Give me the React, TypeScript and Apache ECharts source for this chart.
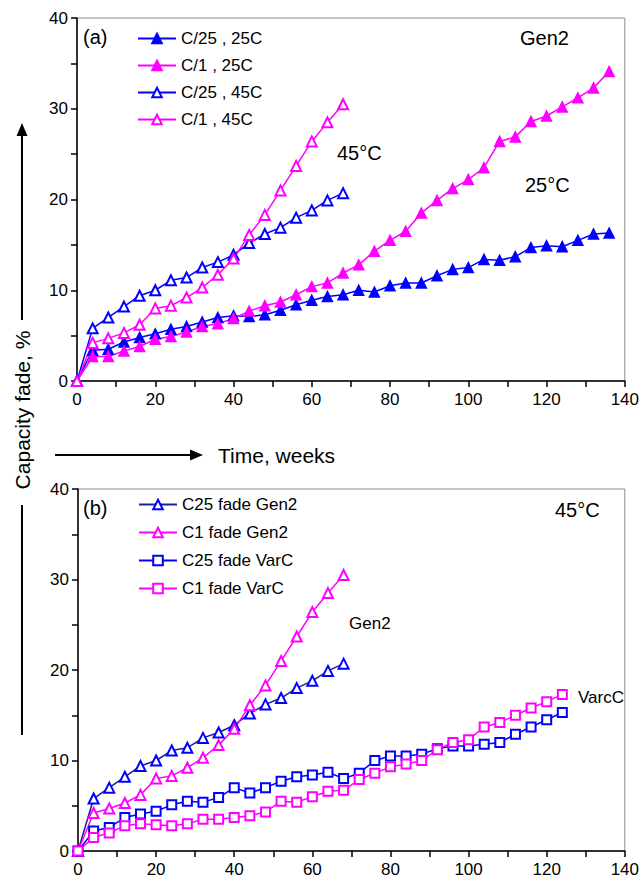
import React, { useEffect, useRef } from "react";
import * as echarts from "echarts";

const FONT = '"Liberation Sans", Arial, Helvetica, sans-serif';

// Panel (a) – Gen2 cells
const weeks25C = [0, 4, 8, 12, 16, 20, 24, 28, 32, 36, 40, 44, 48, 52, 56, 60, 64, 68, 72, 76, 80, 84, 88, 92, 96, 100, 104, 108, 112, 116, 120, 124, 128, 132, 136];
const fadeC25_25C = [0, 3.4, 3.5, 4.3, 4.8, 5.2, 5.7, 6.0, 6.5, 7.0, 7.2, 7.1, 7.3, 7.8, 8.4, 8.9, 9.3, 9.5, 10.0, 9.8, 10.5, 10.8, 10.8, 11.6, 12.3, 12.5, 13.4, 13.3, 13.7, 14.7, 14.9, 14.8, 15.5, 16.2, 16.3];
const fadeC1_25C = [0, 2.7, 2.7, 3.3, 3.8, 4.6, 4.9, 5.4, 6.0, 6.3, 6.9, 7.7, 8.3, 8.7, 9.5, 10.4, 10.8, 11.9, 12.8, 14.3, 15.5, 16.5, 18.5, 19.9, 21.2, 22.2, 23.5, 26.4, 26.9, 28.6, 29.2, 30.2, 31.2, 32.3, 34.1];

const weeks45C = [0, 4, 8, 12, 16, 20, 24, 28, 32, 36, 40, 44, 48, 52, 56, 60, 64, 68];
const fadeC25_45C = [0, 5.8, 7.0, 8.2, 9.4, 10.0, 11.1, 11.4, 12.5, 13.1, 13.9, 15.2, 16.2, 16.9, 18.0, 18.8, 19.9, 20.7];
const fadeC1_45C = [0, 4.2, 4.7, 5.3, 6.2, 8.0, 8.3, 9.2, 10.3, 11.7, 13.5, 16.1, 18.3, 21.0, 23.7, 26.4, 28.5, 30.5];

// Panel (b) – VarC cells at 45°C
const weeksVarC = [0, 4, 8, 12, 16, 20, 24, 28, 32, 36, 40, 44, 48, 52, 56, 60, 64, 68, 72, 76, 80, 84, 88, 92, 96, 100, 104, 108, 112, 116, 120, 124];
const fadeC25_VarC = [0, 2.2, 2.6, 3.7, 4.1, 4.4, 5.1, 5.5, 5.4, 5.9, 7.0, 6.4, 7.0, 7.7, 8.2, 8.4, 8.7, 8.0, 8.6, 10.0, 10.5, 10.5, 10.7, 11.3, 11.6, 11.6, 11.8, 12.0, 12.9, 13.7, 14.5, 15.3];
const fadeC1_VarC = [0, 1.5, 2.0, 2.8, 3.0, 2.9, 2.8, 3.0, 3.5, 3.5, 3.7, 3.9, 4.3, 5.5, 5.4, 6.0, 6.6, 6.7, 7.9, 8.6, 9.3, 9.6, 10.0, 11.2, 12.0, 12.3, 13.7, 14.2, 15.0, 15.8, 16.5, 17.3];

const xTicks = { min: 0, max: 140, interval: 10 };
const yTicks = { min: 0, max: 40, interval: 5 };

const BLUE = "#0000ff";
const MAGENTA = "#ff00ff";
const NAVY = "#1e1e9a";

const pairs = (xs: number[], ys: number[]) => xs.map((x, i) => [x, ys[i]]);

function lineSeries(name: string, xs: number[], ys: number[], idx: number, color: string, symbol: string, lineColor?: string, size = 10) {
  return {
    type: "line",
    name,
    xAxisIndex: idx,
    yAxisIndex: idx,
    data: pairs(xs, ys),
    symbol,
    symbolSize: size,
    showAllSymbol: true,
    lineStyle: { color: lineColor || color, width: 1.5 },
    itemStyle: { color, borderColor: color, borderWidth: 1.5 },
    emphasis: { disabled: true },
  };
}

function xAxis(gridIndex: number) {
  return {
    type: "value",
    gridIndex,
    ...xTicks,
    axisLine: { show: true, onZero: false, lineStyle: { color: "#000", width: 1.5 } },
    axisTick: { show: true, inside: false, length: 6, lineStyle: { color: "#000", width: 1.5 } },
    axisLabel: {
      formatter: (v: number) => (v % 20 === 0 ? String(v) : ""),
      color: "#000",
      fontSize: 17,
      fontFamily: FONT,
      margin: 10,
    },
    splitLine: { show: false },
  };
}

function yAxis(gridIndex: number) {
  return {
    type: "value",
    gridIndex,
    ...yTicks,
    axisLine: { show: true, onZero: false, lineStyle: { color: "#000", width: 1.5 } },
    axisTick: { show: true, inside: false, length: 6, lineStyle: { color: "#000", width: 1.5 } },
    axisLabel: {
      formatter: (v: number) => (v % 10 === 0 ? String(v) : ""),
      color: "#000",
      fontSize: 17,
      fontFamily: FONT,
      margin: 9,
    },
    splitLine: { show: false },
  };
}

function label(text: string, x: number, y: number, size: number) {
  return {
    type: "text",
    x,
    y,
    style: { text, fill: "#000", fontSize: size, fontFamily: FONT, align: "left", verticalAlign: "middle", textAlign: "left", textVerticalAlign: "middle" },
  };
}

export default function App() {
  const ref = useRef<HTMLDivElement>(null);
  useEffect(() => {
    if (!ref.current) return;
    const chart = echarts.init(ref.current, null, { renderer: "svg" });
    const legendBase = {
      orient: "vertical",
      selectedMode: false,
      itemWidth: 38,
      itemHeight: 12,
      textStyle: { color: "#000", fontSize: 17, fontFamily: FONT },
    };
    chart.setOption({
      animation: false,
      backgroundColor: "#fff",
      grid: [
        { left: 77, right: 17, top: 18, height: 363, show: true, borderColor: "#8c8c8c", borderWidth: 1 },
        { left: 78, right: 14, top: 489, height: 363, show: true, borderColor: "#8c8c8c", borderWidth: 1 },
      ],
      xAxis: [xAxis(0), xAxis(1)],
      yAxis: [yAxis(0), yAxis(1)],
      legend: [
        { ...legendBase, left: 132, top: 25, itemGap: 10, data: ["C/25 , 25C", "C/1 , 25C", "C/25 , 45C", "C/1 , 45C"] },
        { ...legendBase, left: 133, top: 491, itemGap: 11, data: ["C25 fade Gen2", "C1 fade Gen2", "C25 fade VarC", "C1 fade VarC"] },
      ],
      series: [
        lineSeries("C/25 , 25C", weeks25C, fadeC25_25C, 0, BLUE, "triangle"),
        lineSeries("C/1 , 25C", weeks25C, fadeC1_25C, 0, MAGENTA, "triangle"),
        lineSeries("C/25 , 45C", weeks45C, fadeC25_45C, 0, BLUE, "emptyTriangle"),
        lineSeries("C/1 , 45C", weeks45C, fadeC1_45C, 0, MAGENTA, "emptyTriangle"),
        lineSeries("C25 fade Gen2", weeks45C, fadeC25_45C, 1, BLUE, "emptyTriangle", NAVY),
        lineSeries("C1 fade Gen2", weeks45C, fadeC1_45C, 1, MAGENTA, "emptyTriangle"),
        lineSeries("C25 fade VarC", weeksVarC, fadeC25_VarC, 1, BLUE, "emptyRect", undefined, 9),
        lineSeries("C1 fade VarC", weeksVarC, fadeC1_VarC, 1, MAGENTA, "emptyRect", undefined, 9),
      ],
      graphic: [
        label("(a)", 83, 37, 20),
        label("Gen2", 520, 38, 20),
        label("45°C", 337, 153, 20),
        label("25°C", 525, 185, 20),
        label("(b)", 83, 508, 20),
        label("45°C", 555, 510, 20),
        label("Gen2", 349, 623, 17),
        label("VarcC", 578, 697, 17),
        // x-axis title with arrow
        { type: "line", shape: { x1: 55, y1: 455, x2: 193, y2: 455 }, style: { stroke: "#000", lineWidth: 2 } },
        { type: "polygon", shape: { points: [[203, 455], [190, 449.5], [190, 460.5]] }, style: { fill: "#000" } },
        label("Time, weeks", 218, 455, 21),
        // y-axis title with arrow
        { type: "line", shape: { x1: 22, y1: 320, x2: 22, y2: 132 }, style: { stroke: "#000", lineWidth: 2 } },
        { type: "polygon", shape: { points: [[22, 123], [16.5, 136], [27.5, 136]] }, style: { fill: "#000" } },
        { type: "line", shape: { x1: 22, y1: 505, x2: 22, y2: 735 }, style: { stroke: "#000", lineWidth: 2 } },
        {
          type: "text",
          x: 22,
          y: 410,
          rotation: Math.PI / 2,
          style: { text: "Capacity fade, %", fill: "#000", fontSize: 21, fontFamily: FONT, align: "center", verticalAlign: "middle", textAlign: "center", textVerticalAlign: "middle" },
        },
      ],
    });
    return () => chart.dispose();
  }, []);
  return <div ref={ref} style={{ position: "fixed", left: 0, top: 0, width: 642, height: 878 }} />;
}
